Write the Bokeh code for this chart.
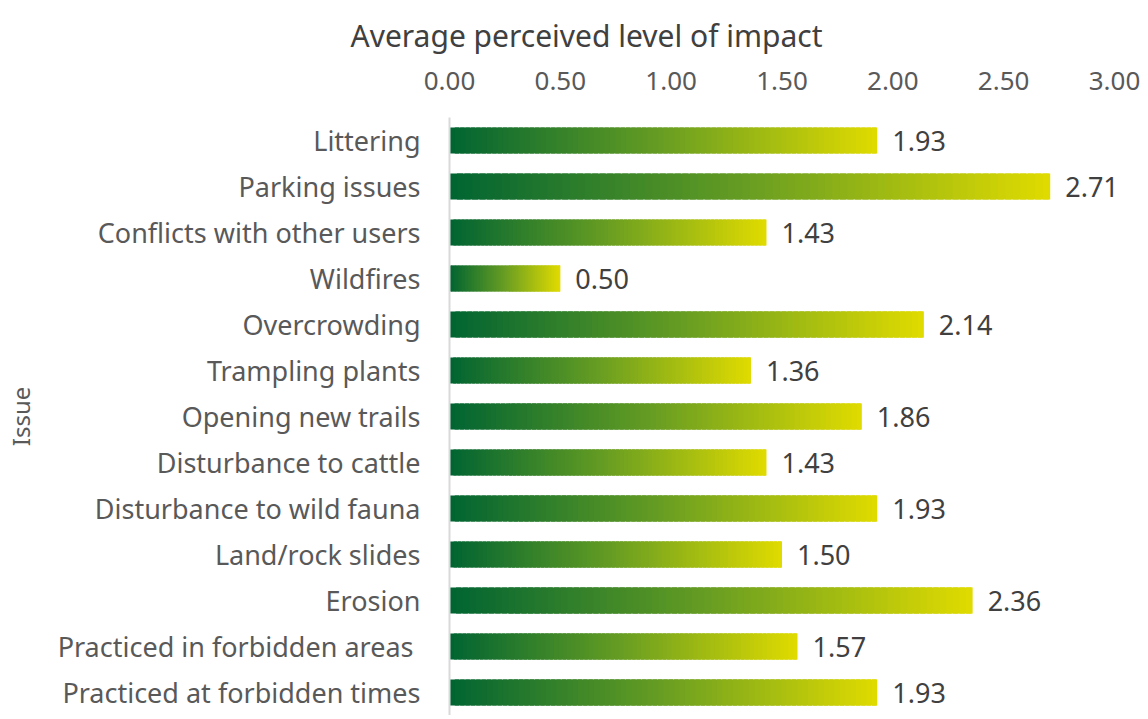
from bokeh.plotting import figure
from bokeh.models import FactorRange, ColumnDataSource, FixedTicker, NumeralTickFormatter
from bokeh.core.properties import value
from bokeh.embed import file_html
from bokeh.resources import INLINE

issues = [
    "Littering",
    "Parking issues",
    "Conflicts with other users",
    "Wildfires",
    "Overcrowding",
    "Trampling plants",
    "Opening new trails",
    "Disturbance to cattle",
    "Disturbance to wild fauna",
    "Land/rock slides",
    "Erosion",
    "Practiced in forbidden areas ",
    "Practiced at forbidden times",
]
impact = [1.93, 2.71, 1.43, 0.50, 2.14, 1.36, 1.86, 1.43, 1.93, 1.50, 2.36, 1.57, 1.93]
x_ticks = [0.0, 0.5, 1.0, 1.5, 2.0, 2.5, 3.0]

FONT = "Noto Sans"

p = figure(
    width=1140, height=715,
    y_range=FactorRange(factors=list(reversed(issues)), range_padding=0),
    x_range=(0, 3.0),
    x_axis_location="above",
    output_backend="svg", toolbar_location=None,
    min_border_left=449, min_border_right=26, min_border_top=117, min_border_bottom=0,
    outline_line_color=None,
)

# gradient bars: each bar split into thin slices with interpolated colour
stops = [(0.0, (0, 100, 50)), (0.5, (104, 158, 34)), (1.0, (225, 219, 0))]

def grad(t):
    for (t0, c0), (t1, c1) in zip(stops[:-1], stops[1:]):
        if t <= t1:
            f = (t - t0) / (t1 - t0)
            return "#%02x%02x%02x" % tuple(int(round(a + (b - a) * f)) for a, b in zip(c0, c1))
    return "#%02x%02x%02x" % stops[-1][1]

N = 80
ys, lefts, rights, cols = [], [], [], []
for name, v in zip(issues, impact):
    for i in range(N):
        ys.append(name)
        lefts.append(v * i / N)
        rights.append(min(v, v * (i + 1.8) / N))
        cols.append(grad((i + 0.5) / N))
src = ColumnDataSource(dict(y=ys, left=lefts, right=rights, color=cols))
p.hbar(y="y", left="left", right="right", height=0.57, fill_color="color", line_color=None, source=src)

lab = ColumnDataSource(dict(y=issues, x=impact, t=["%.2f" % v for v in impact]))
p.text(x="x", y="y", text="t", source=lab, x_offset=15, text_baseline="middle",
       text_font=value(FONT), text_font_size="27px", text_color="#404040")

p.xgrid.visible = False
p.ygrid.visible = False

xa = p.xaxis[0]
xa.ticker = FixedTicker(ticks=x_ticks)
xa.formatter = NumeralTickFormatter(format="0.00")
xa.axis_line_color = None
xa.major_tick_line_color = None
xa.minor_tick_line_color = None
xa.major_label_text_font = FONT
xa.major_label_text_font_size = "26px"
xa.major_label_text_color = "#595959"
xa.major_label_standoff = 22

ya = p.yaxis[0]
ya.axis_line_color = "#d9d9d9"
ya.axis_line_width = 2
ya.major_tick_line_color = None
ya.minor_tick_line_color = None
ya.major_label_text_font = FONT
ya.major_label_text_font_size = "27px"
ya.major_label_text_color = "#595959"
ya.major_label_standoff = 23
ya.axis_label = "Issue"
ya.axis_label_text_font = FONT
ya.axis_label_text_font_size = "24px"
ya.axis_label_text_font_style = "normal"
ya.axis_label_text_color = "#595959"
ya.axis_label_standoff = 18

p.title.text = "Average perceived level of impact"
p.title.text_font = FONT
p.title.text_font_size = "30px"
p.title.text_font_style = "normal"
p.title.text_color = "#404040"
p.title.align = "left"
p.title.offset = -99
p.title.standoff = 25

open("out.html", "w").write(file_html(p, INLINE))
